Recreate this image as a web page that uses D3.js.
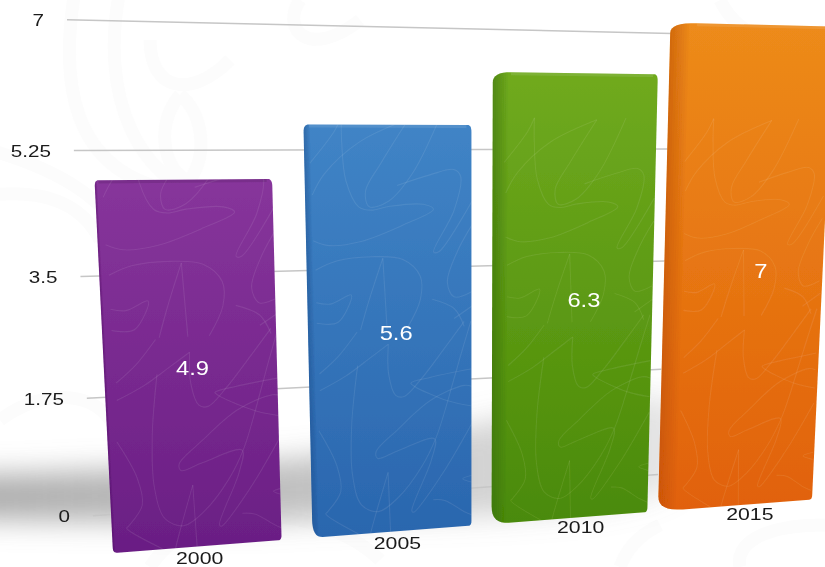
<!DOCTYPE html>
<html><head><meta charset="utf-8">
<script src="https://cdn.jsdelivr.net/npm/d3@7/dist/d3.min.js"></script>
<style>html,body{margin:0;padding:0;background:#fff;overflow:hidden}svg{display:block}text{font-family:"Liberation Sans",Arial,sans-serif}</style>
</head><body><svg id="c" width="825" height="567"></svg>
<script>
const categories = ["2000","2005","2010","2015"];
const values = [4.9,5.6,6.3,7];
const yTicks = [0,1.75,3.5,5.25,7];
const yTickLabels = ["0","1.75","3.5","5.25","7"];
const topColors = ["#87359b","#4084c6","#70aa1f","#ed8b1a"];
const bottomColors = ["#6a1e84","#2a66ae","#4a8a08","#e1610a"];
const bevelColors = ["#4f1263","#1f4f8c","#35690a","#b84c05"];

function homography(p00,p10,p11,p01){
  const dx1=p10[0]-p11[0],dx2=p01[0]-p11[0],sx=p00[0]-p10[0]+p11[0]-p01[0];
  const dy1=p10[1]-p11[1],dy2=p01[1]-p11[1],sy=p00[1]-p10[1]+p11[1]-p01[1];
  const d=dx1*dy2-dx2*dy1, g=(sx*dy2-dx2*sy)/d, h=(dx1*sy-sx*dy1)/d;
  const a=p10[0]-p00[0]+g*p10[0], b=p01[0]-p00[0]+h*p01[0], c=p00[0];
  const e=p10[1]-p00[1]+g*p10[1], f=p01[1]-p00[1]+h*p01[1], i=p00[1];
  return (u,v)=>{const w=g*u+h*v+1;return [(a*u+b*v+c)/w,(e*u+f*v+i)/w];};
}
const barPlane = homography([113,553],[812,499.5],[834,26.5],[86,8.5]);
const wallPlane = homography([93,515.7],[658,474.4],[672,33.5],[67,19.7]);
const x = d3.scaleBand().domain(categories).range([0,1]).paddingInner(0.125).paddingOuter(0);
const y = d3.scaleLinear().domain([0,7]).range([0,1]);
const svg = d3.select("#c");
const defs = svg.append("defs");
const blur=(id,s)=>defs.append("filter").attr("id",id).attr("x","-30%").attr("y","-30%").attr("width","160%").attr("height","160%").append("feGaussianBlur").attr("stdDeviation",s);
blur("sh",14);blur("soft",0.45);
const line=d3.line().curve(d3.curveCatmullRom.alpha(0.5));

/* faint watermark */
const wm=svg.append("g").attr("fill","none").attr("stroke","#fcfcfc").attr("stroke-width",13);
["M75,-10C60,80 70,170 170,190","M120,-10C100,90 130,190 240,210","M150,40C150,90 190,100 230,60","M180,95C150,130 170,180 190,180C210,150 200,110 180,95",
 "M-10,150C60,170 110,200 130,250","M-10,195C40,190 80,200 100,240","M300,0C280,30 310,60 360,20","M720,0C740,40 780,50 825,30","M380,560C330,510 200,490 150,567","M620,567C630,540 650,530 660,525","M740,567C735,545 760,525 825,525","M0,420C40,390 90,390 110,420"]
 .forEach(d=>wm.append("path").attr("d",d));

/* floor shadow */
const sg=defs.append("linearGradient").attr("id","shg").attr("gradientUnits","userSpaceOnUse").attr("x1",0).attr("x2",680).attr("y1",0).attr("y2",0);
sg.append("stop").attr("offset",0).attr("stop-color","#8f8f8f").attr("stop-opacity",.72);
sg.append("stop").attr("offset",.45).attr("stop-color","#8f8f8f").attr("stop-opacity",.55);
sg.append("stop").attr("offset",1).attr("stop-color","#8f8f8f").attr("stop-opacity",.22);
svg.append("path").attr("d",line([[-60,476],[300,458],[680,405],[680,480],[300,520],[-60,518]])+"Z").attr("fill","url(#shg)").attr("filter","url(#sh)");

/* grid */
const gg=svg.append("g").attr("filter","url(#soft)");
yTicks.forEach((t,i)=>{
  const a=wallPlane(0,y(t)),b=wallPlane(1,y(t));
  gg.append("path").attr("d",d3.line()([a,b])).attr("stroke","#c6c6c6").attr("stroke-width",1.5).attr("fill","none");
  gg.append("text").attr("transform",`translate(${a[0]-23},${a[1]+6.5}) scale(1.25,1)`).attr("text-anchor","end").attr("font-size",16.5).attr("fill","#1a1a1a").text(yTickLabels[i]);
});

/* squiggle texture traced in zoomed pixels of one bar */
const lowerSq=[
 [[270,450],[240,550],[220,620],[205,680]],[[270,450],[275,620],[277,680]],
 [[525,200],[500,195],[400,235],[300,320],[235,385],[240,405],[300,385],[410,355],[400,420],[340,575],[345,580],[430,470],[525,310]],
 [[185,120],[165,300],[165,450],[190,545],[240,570],[300,530],[370,440],[415,350],[470,170],[490,100],[520,0]],
 [[525,260],[450,240],[350,190],[340,180],[400,165],[525,145]],
 [[275,60],[275,150],[295,215],[320,220],[370,170],[440,80],[500,0]],
 [[75,190],[150,150],[220,100],[275,60]],[[75,140],[130,90],[185,20]],
 [[70,310],[120,420],[130,500],[90,560],[85,565],[180,635]],
 [[405,545],[440,550],[500,590],[530,605]],[[530,475],[495,485],[530,500]]
];
const upperSq=[
 [[65,380],[110,395],[200,385],[320,340],[410,295],[380,280],[280,285],[230,295],[195,285],[160,210],[150,100],[150,30]],
 [[65,250],[100,190],[200,100],[340,35]],
 [[340,35],[260,160],[215,240],[225,285],[280,270],[350,190],[430,30]],
 [[305,225],[400,195],[470,180],[490,200],[470,300],[410,420],[425,420],[525,270]],
 [[70,465],[130,440],[230,430],[320,440],[370,490],[370,560],[330,645]],
 [[262,435],[220,560],[195,645]],[[262,435],[272,645]],
 [[70,560],[110,565],[170,540],[130,620],[70,620]],
 [[525,540],[470,555],[450,510],[480,420],[525,340]],
 [[405,560],[470,590],[500,645]],[[530,580],[470,620]],[[60,160],[130,70],[150,30]]
];
const toTex=(zx,zy,base)=>[(295+zx/3-310)/163,(537-(base+zy/3))/72.3];
const texture=[...lowerSq.map(s=>s.map(p=>toTex(p[0],p[1],325))),...upperSq.map(s=>s.map(p=>toTex(p[0],p[1],115)))];

/* shape styling per bar, in bar-local units */
const sLeft=[0,0,-.04,-.085], sRight=[.96,.975,.985,1];
const bevelW=[.012,.035,.09,.12];
const brS=[.025,.06,.11,.17], brV=[.07,.26,.26,.23];
const trS=[.02,.03,.11,.17], trV=[.08,.1,.14,.14];
const valDx=[-4,2,5,9], valDy=[0,-1,-2,-2];
const catDx=[-3,-2,-2,-4], catDy=[-1,-1,-3,-2];

categories.forEach((cat,i)=>{
  const v=values[i], u0=x(cat), bw=x.bandwidth(), top=y(v);
  const P=(s,val)=>barPlane(u0+s*bw,y(val));
  const gid="g"+i, L=sLeft[i], R=sRight[i];
  const g=defs.append("linearGradient").attr("id",gid).attr("x1",0).attr("x2",0).attr("y1",0).attr("y2",1);
  g.append("stop").attr("offset",0).attr("stop-color",topColors[i]);
  g.append("stop").attr("offset",1).attr("stop-color",bottomColors[i]);

  const q=(a,c,b,n=8)=>d3.range(n+1).map(k=>{const t=k/n;return [(1-t)*(1-t)*a[0]+2*t*(1-t)*c[0]+t*t*b[0],(1-t)*(1-t)*a[1]+2*t*(1-t)*c[1]+t*t*b[1]];});
  const outline=[
    ...q([L,v-trV[i]],[L,v],[L+trS[i],v]),
    ...q([R-.025,v],[R,v],[R,v-.09]),
    ...q([R,.07],[R,0],[R-.02,0]),
    ...q([L+brS[i],0],[L,0],[L,brV[i]])
  ];
  const d=d3.line()(outline.map(p=>P(p[0],p[1])))+"Z";
  const clipId="cl"+i;
  defs.append("clipPath").attr("id",clipId).append("path").attr("d",d);
  const gr=svg.append("g").attr("filter","url(#soft)");
  gr.append("path").attr("d",d).attr("fill",`url(#${gid})`);
  const inner=gr.append("g").attr("clip-path",`url(#${clipId})`);
  texture.forEach(s=>{
    inner.append("path").attr("d",line(s.map(p=>P(p[0],p[1])))).attr("fill","none").attr("stroke","#fff").attr("stroke-opacity",.085).attr("stroke-width",1.1);
  });
  // soft left side, as strips fading towards the face
  const strips=8;
  d3.range(strips).forEach(k=>{
    const s0=L+bevelW[i]*k/strips, s1=L+bevelW[i]*(k+1)/strips;
    inner.append("path").attr("d",d3.line()([P(s0,v),P(s1,v),P(s1,0),P(s0,0)])+"Z").attr("fill",bevelColors[i]).attr("opacity",.5*(1-k/strips));
  });
  inner.append("path").attr("d",d3.line()([P(L+trS[i],v),P(R-.03,v),P(R-.03,v-.04),P(L+trS[i],v-.04)])+"Z").attr("fill",i==0?"#000":"#fff").attr("opacity",.1);
  const m=barPlane(u0+bw/2,top/2);
  svg.append("text").attr("filter","url(#soft)").attr("transform",`translate(${m[0]+1+valDx[i]},${m[1]+7.5+valDy[i]}) scale(1.13,1)`).attr("text-anchor","middle").attr("font-size",21).attr("fill","#fff").text(v);
  const l=barPlane(u0+bw/2,y(-0.18));
  svg.append("text").attr("transform",`translate(${l[0]+i*4+catDx[i]},${l[1]+6+catDy[i]}) scale(1.25,1)`).attr("text-anchor","middle").attr("font-size",17).attr("fill","#1a1a1a").text(cat);
});
</script></body></html>
